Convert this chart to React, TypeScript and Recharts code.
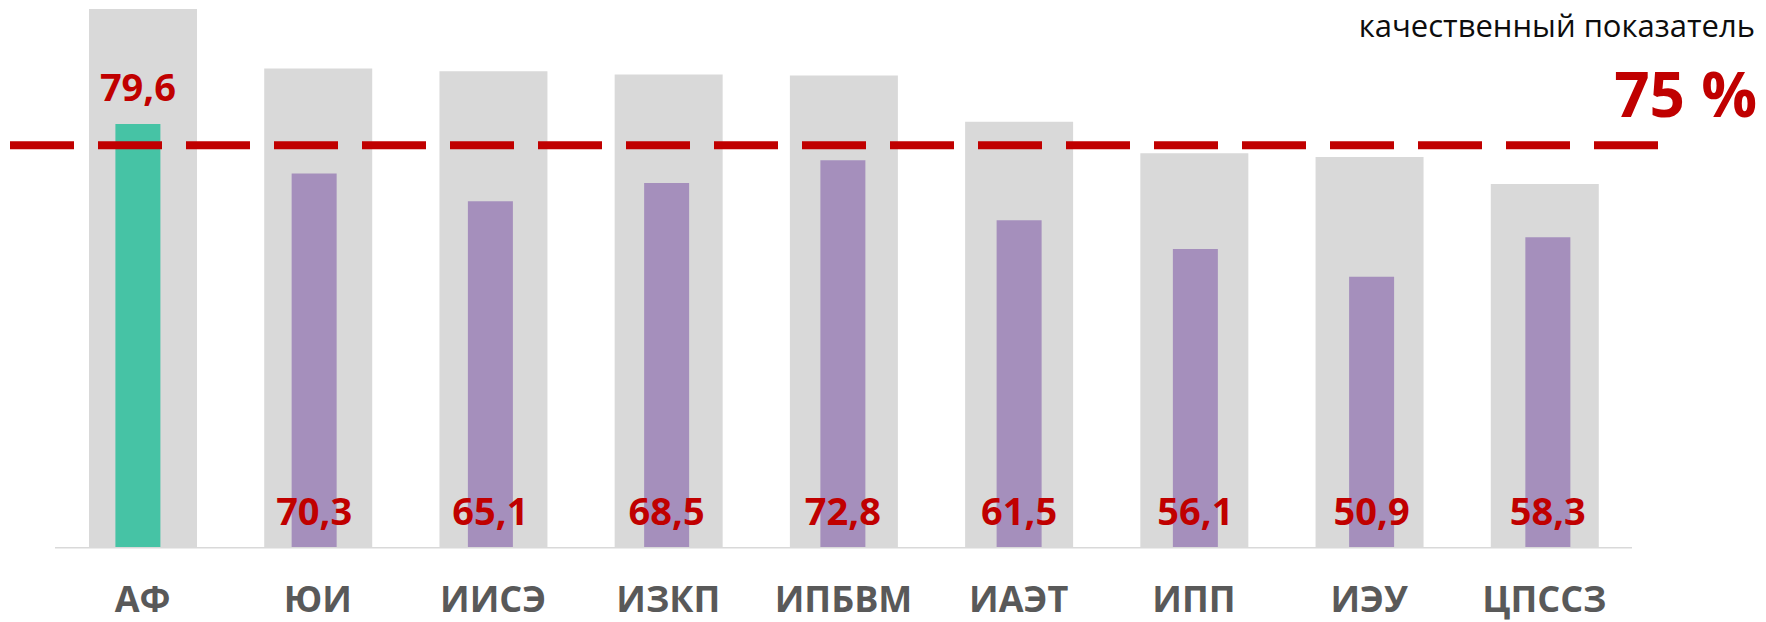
import React from 'react';
import { BarChart, Bar, XAxis, YAxis, Cell, LabelList, ReferenceLine } from 'recharts';

const CATEGORIES = ['АФ', 'ЮИ', 'ИИСЭ', 'ИЗКП', 'ИПБВМ', 'ИАЭТ', 'ИПП', 'ИЭУ', 'ЦПССЗ'];
const VALUES = [79.6, 70.3, 65.1, 68.5, 72.8, 61.5, 56.1, 50.9, 58.3];
const BACKGROUND = [101.2, 90.0, 89.5, 88.9, 88.7, 80.0, 74.1, 73.4, 68.3];
const HIGHLIGHT = [true, false, false, false, false, false, false, false, false];
const TARGET_LINE = 75.6;
const TARGET_LABEL = '75 %';
const TARGET_CAPTION = 'качественный показатель';

const data = CATEGORIES.map((cat, i) => ({ cat, value: VALUES[i], bg: BACKGROUND[i] }));

const FONT = '"Open Sans", "Noto Sans", sans-serif';
const RED = '#C00000';

const fmt = (v: number) => v.toFixed(1).replace('.', ',');

const CategoryTick = (props: any) => {
  const { x, y, payload } = props;
  return (
    <text x={x} y={y + 64.5} textAnchor="middle" fontFamily={FONT} fontWeight={700} fontSize={36} fill="#595959">
      {payload.value}
    </text>
  );
};

const ValueLabel = (props: any) => {
  const { x, y, width, height, value, index } = props;
  const cx = x + width / 2;
  const ty = index === 0 ? y - 22.5 : y + height - 22.7;
  return (
    <text x={cx} y={ty} textAnchor="middle" fontFamily={FONT} fontWeight={700} fontSize={38} fill={RED}>
      {fmt(value)}
    </text>
  );
};

const DashedTarget = (props: any) => {
  const { x1, y1, x2, y2 } = props;
  return (
    <line x1={x1 - 45} y1={y1} x2={x2 + 26} y2={y2} stroke={RED} strokeWidth={8} strokeDasharray="64 24" />
  );
};

export default function App() {
  return (
    <div style={{ position: 'absolute', left: 0, top: 0, width: 1766, height: 622 }}>
      <BarChart
        width={1766}
        height={622}
        data={data}
        margin={{ top: 4.7, right: 134, bottom: 0, left: 55 }}
      >
        <XAxis
          xAxisId="g"
          dataKey="cat"
          height={74.3}
          tickSize={0}
          tickMargin={0}
          tickLine={false}
          axisLine={{ stroke: '#D9D9D9', strokeWidth: 1.5 }}
          tick={<CategoryTick />}
          interval={0}
        />
        <XAxis
          xAxisId="c"
          dataKey="cat"
          hide
          orientation="top"
          height={0}
          padding={{ left: -5.6, right: -3.6 }}
        />
        <YAxis hide domain={[0, 102]} />
        <Bar xAxisId="g" dataKey="bg" fill="#D9D9D9" barSize={108} isAnimationActive={false} />
        <Bar xAxisId="c" dataKey="value" barSize={45} isAnimationActive={false}>
          {data.map((d, i) => (
            <Cell key={d.cat} fill={HIGHLIGHT[i] ? '#46C3A5' : '#A58FBC'} />
          ))}
          <LabelList dataKey="value" content={<ValueLabel />} />
        </Bar>
        <ReferenceLine xAxisId="g" y={TARGET_LINE} shape={<DashedTarget />} ifOverflow="visible" />
      </BarChart>
      <svg width={1766} height={622} style={{ position: 'absolute', left: 0, top: 0, pointerEvents: 'none' }}>
        <text x={1755} y={37.3} textAnchor="end" fontFamily={FONT} fontSize={31} fill="#0D0D0D">
          {TARGET_CAPTION}
        </text>
        <text x={1757} y={117.3} textAnchor="end" fontFamily={FONT} fontWeight={700} fontSize={62} fill={RED}>
          {TARGET_LABEL}
        </text>
      </svg>
    </div>
  );
}
